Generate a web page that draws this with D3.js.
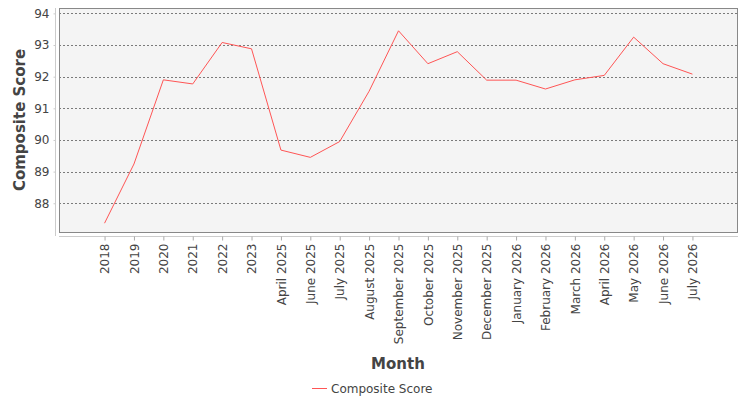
<!DOCTYPE html>
<html><head><meta charset="utf-8">
<script src="https://cdn.jsdelivr.net/npm/d3@7"></script>
<style>body{margin:0;background:#fff;}svg{display:block;font-family:"DejaVu Sans",sans-serif;}</style>
</head><body>
<svg id="c" width="750" height="400"></svg>
<script>
const categories = ["2018","2019","2020","2021","2022","2023","April 2025","June 2025","July 2025","August 2025","September 2025","October 2025","November 2025","December 2025","January 2026","February 2026","March 2026","April 2026","May 2026","June 2026","July 2026"];
const compositeScore = [87.37,89.24,91.90,91.77,93.08,92.88,89.68,89.45,89.95,91.54,93.45,92.41,92.79,91.89,91.89,91.61,91.90,92.04,93.25,92.41,92.08];
const yTicks = [88,89,90,91,92,93,94];
const seriesName = "Composite Score";

const svg = d3.select("#c");
const L = 59, R = 738, T = 8, B = 233;
const x = d3.scalePoint().domain(categories).range([L, R]).padding(1.55);
const y = d3.scaleLinear().domain([87.06, 94.17]).range([B, T]);

svg.append("rect").attr("x", L).attr("y", T).attr("width", R - L).attr("height", B - T)
  .attr("fill", "#f4f4f4");

// grid
svg.append("g").selectAll("line").data(yTicks).join("line")
  .attr("x1", L).attr("x2", R).attr("y1", d => Math.round(y(d)) + 0.5).attr("y2", d => Math.round(y(d)) + 0.5)
  .attr("stroke", "#7a7a7a").attr("stroke-width", 1).attr("stroke-dasharray", "2,2");

svg.append("rect").attr("x", L + 0.5).attr("y", T + 0.5).attr("width", R - L - 1).attr("height", B - T - 1)
  .attr("fill", "none").attr("stroke", "#888");

// y axis
const yAxis = d3.axisLeft(y).tickValues(yTicks).tickSize(2).tickPadding(4).tickFormat(d3.format("d"));
const gy = svg.append("g").attr("transform", `translate(${L - 3.5},0)`).call(yAxis);
gy.select(".domain").attr("stroke", "#ccc").attr("d", `M-0,${T}V${B + 3}`);
gy.selectAll(".tick line").attr("stroke", "#ccc");
gy.selectAll("text").attr("fill", "#444").style("font-size", "12px").style("font-family", "DejaVu Sans");

// x axis
const xAxis = d3.axisBottom(x).tickSize(4).tickPadding(4);
const gx = svg.append("g").attr("transform", `translate(0,${B + 3.5})`).call(xAxis);
gx.select(".domain").attr("stroke", "#ccc").attr("d", `M${L},0H${R}`);
gx.selectAll(".tick line").attr("stroke", "#aaa");
gx.selectAll("text").attr("fill", "#444").style("font-size", "12px").style("font-family", "DejaVu Sans")
  .attr("transform", "rotate(-90)").attr("text-anchor", "end").attr("dy", "0.35em").attr("x", -7).attr("y", 0);

// line
const line = d3.line().x((d, i) => x(categories[i])).y(d => y(d));
svg.append("path").datum(compositeScore).attr("d", line).attr("fill", "none")
  .attr("stroke", "#ff5555").attr("stroke-width", 1);

// axis titles
svg.append("text").attr("transform", "translate(25,120) rotate(-90)").attr("text-anchor", "middle")
  .attr("fill", "#444").style("font-size", "15px").style("font-weight", "bold").text("Composite Score");
svg.append("text").attr("x", 398).attr("y", 369).attr("text-anchor", "middle")
  .attr("fill", "#444").style("font-size", "15px").style("font-weight", "bold").text("Month");

// legend
svg.append("line").attr("x1", 312).attr("x2", 327).attr("y1", 388.5).attr("y2", 388.5).attr("stroke", "#ff5555");
svg.append("text").attr("x", 331).attr("y", 392.5).attr("fill", "#444").style("font-size", "12px").text(seriesName);
</script>
</body></html>
